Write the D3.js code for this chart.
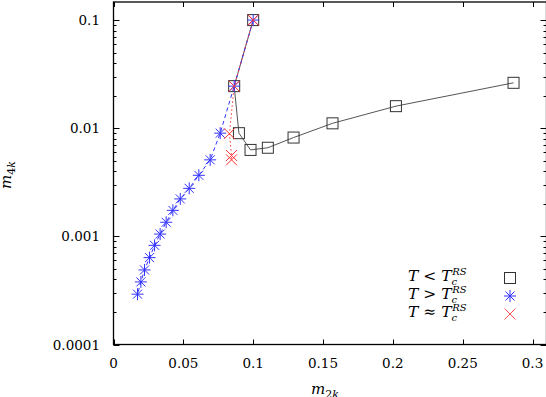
<!DOCTYPE html>
<html>
<head>
<meta charset="utf-8">
<script src="https://cdn.jsdelivr.net/npm/d3@7"></script>
<style>
  body { margin: 0; background: #fff; }
  svg { display: block; }
</style>
</head>
<body>
<svg width="546" height="397"></svg>
<script>
// data (m2k, m4k)
var belowX = [0.1, 0.0864, 0.0898, 0.0981, 0.1105, 0.1289, 0.1568, 0.2022, 0.2864];
var belowY = [0.1, 0.0245, 0.0090, 0.0063, 0.0066, 0.0082, 0.0111, 0.0160, 0.0263];

var aboveX = [0.1, 0.0864, 0.0764, 0.0692, 0.0611, 0.0542, 0.0478, 0.0425, 0.0377, 0.0334, 0.0294, 0.0258, 0.0222, 0.0196, 0.0172];
var aboveY = [0.1, 0.0245, 0.0090, 0.0051, 0.00367, 0.00278, 0.00222, 0.00174, 0.00135, 0.00105, 0.000826, 0.000636, 0.000489, 0.000379, 0.000292];

var nearX = [0.1, 0.0864, 0.0830, 0.0845, 0.0845];
var nearY = [0.1, 0.0245, 0.0089, 0.0056, 0.0051];

var xTicks = [0, 0.05, 0.1, 0.15, 0.2, 0.25, 0.3];
var xTickLabels = ["0", "0.05", "0.1", "0.15", "0.2", "0.25", "0.3"];
var yTicks = [0.0001, 0.001, 0.01, 0.1];
var yTickLabels = ["0.0001", "0.001", "0.01", "0.1"];

var legendMain = ["T < T", "T > T", "T \u2248 T"];

// frame (pixel edges of the plot box)
var plotL = 113.5, plotR = 546.5, plotT = 2, plotB = 344.5;

var svg = d3.select("svg")
  .attr("font-family", "'DejaVu Serif', serif");

var x = d3.scaleLinear().domain([0, 0.31]).range([plotL, plotR]);
var y = d3.scaleLog().domain([0.0001, 0.147]).range([plotB, plotT]);

// minor y ticks
var minorY = [];
for (var e = -4; e <= -1; e++) {
  for (var m = 2; m <= 9; m++) {
    var v = m * Math.pow(10, e);
    if (v < 0.147) minorY.push(v);
  }
}

svg.append("rect")
  .attr("x", plotL).attr("y", plotT)
  .attr("width", plotR - plotL).attr("height", plotB - plotT)
  .attr("fill", "none").attr("stroke", "#000").attr("stroke-width", 1.3);

var axes = svg.append("g").attr("stroke", "#000").attr("stroke-width", 1);

// left & right y ticks (inward)
axes.selectAll(".ymaj").data(yTicks).enter().append("path")
  .attr("d", function(d) {
    var p = Math.round(y(d)) + 0.5;
    return "M" + plotL + "," + p + "h6M" + plotR + "," + p + "h-6";
  });
axes.selectAll(".ymin").data(minorY).enter().append("path")
  .attr("d", function(d) {
    var p = Math.round(y(d)) + 0.5;
    return "M" + plotL + "," + p + "h3M" + plotR + "," + p + "h-3";
  });
// bottom & top x ticks
axes.selectAll(".xmaj").data(xTicks).enter().append("path")
  .attr("d", function(d) {
    var p = Math.round(x(d)) + 0.5;
    return "M" + p + "," + plotB + "v-5M" + p + "," + plotT + "v5";
  });

svg.selectAll(".xl").data(xTicks).enter().append("text")
  .attr("x", function(d) { return x(d); })
  .attr("y", 368)
  .attr("text-anchor", "middle")
  .attr("font-size", 13.5)
  .text(function(d, i) { return xTickLabels[i]; });

svg.selectAll(".yl").data(yTicks).enter().append("text")
  .attr("x", 100)
  .attr("y", function(d) { return y(d) + 5; })
  .attr("text-anchor", "end")
  .attr("font-size", 13.5)
  .text(function(d, i) { return yTickLabels[i]; });

// axis titles
var xt = svg.append("text").attr("x", 311).attr("y", 394).attr("font-size", 15);
xt.append("tspan").attr("font-style", "italic").text("m");
xt.append("tspan").attr("font-size", 11).attr("dy", 4).text("2");
xt.append("tspan").attr("font-size", 11).attr("font-style", "italic").text("k");

var yt = svg.append("text").attr("transform", "translate(11,189) rotate(-90)").attr("font-size", 15);
yt.append("tspan").attr("font-style", "italic").text("m");
yt.append("tspan").attr("font-size", 11).attr("dy", 4).text("4");
yt.append("tspan").attr("font-size", 11).attr("font-style", "italic").text("k");

// markers
function square(g, cx, cy, col) {
  g.append("rect").attr("x", cx - 5.5).attr("y", cy - 5.5).attr("width", 11).attr("height", 11)
    .attr("fill", "none").attr("stroke", col).attr("stroke-width", 1);
}
function star(g, cx, cy, col) {
  g.append("path")
    .attr("d", "M" + (cx - 6) + "," + cy + "h12M" + cx + "," + (cy - 6) + "v12M" + (cx - 4.5) + "," + (cy - 4.5) + "l9,9M" + (cx - 4.5) + "," + (cy + 4.5) + "l9,-9")
    .attr("stroke", col).attr("stroke-width", 1).attr("fill", "none");
}
function cross(g, cx, cy, col) {
  g.append("path")
    .attr("d", "M" + (cx - 5.5) + "," + (cy - 5.5) + "l11,11M" + (cx - 5.5) + "," + (cy + 5.5) + "l11,-11")
    .attr("stroke", col).attr("stroke-width", 1).attr("fill", "none");
}

var line = d3.line().x(function(d) { return x(d[0]); }).y(function(d) { return y(d[1]); });

var black = "#333", blue = "#3333ff", red = "#ff3333";

var belowPts = d3.zip(belowX, belowY);
var abovePts = d3.zip(aboveX, aboveY);
var nearPts = d3.zip(nearX, nearY);

svg.append("path").attr("d", line(belowPts)).attr("fill", "none").attr("stroke", "#555").attr("stroke-width", 1);
var gB = svg.append("g");
belowPts.forEach(function(p) { square(gB, x(p[0]), y(p[1]), black); });

svg.append("path").attr("d", line(abovePts)).attr("fill", "none").attr("stroke", blue)
  .attr("stroke-width", 1).attr("stroke-dasharray", "4,3");
var gA = svg.append("g");
abovePts.forEach(function(p) { star(gA, x(p[0]), y(p[1]), blue); });

svg.append("path").attr("d", line(nearPts)).attr("fill", "none").attr("stroke", red)
  .attr("stroke-width", 1).attr("stroke-dasharray", "1.5,2.5");
var gN = svg.append("g");
nearPts.forEach(function(p) { cross(gN, x(p[0]), y(p[1]), red); });

// legend
var leg = svg.append("g");
var legY = [281, 299, 317];
var legMark = [square, star, cross];
var legCol = [black, blue, "#ff5555"];
legendMain.forEach(function(s, i) {
  var t = leg.append("text").attr("x", 408).attr("y", legY[i]).attr("font-size", 15.5).attr("font-style", "italic");
  t.append("tspan").text(s);
  t.append("tspan").attr("font-size", 10).attr("dy", 4).text("c");
  t.append("tspan").attr("font-size", 10).attr("dx", -5).attr("dy", -10).text("RS");
  legMark[i](leg, 510, legY[i] - 3, legCol[i]);
});
</script>
</body>
</html>
